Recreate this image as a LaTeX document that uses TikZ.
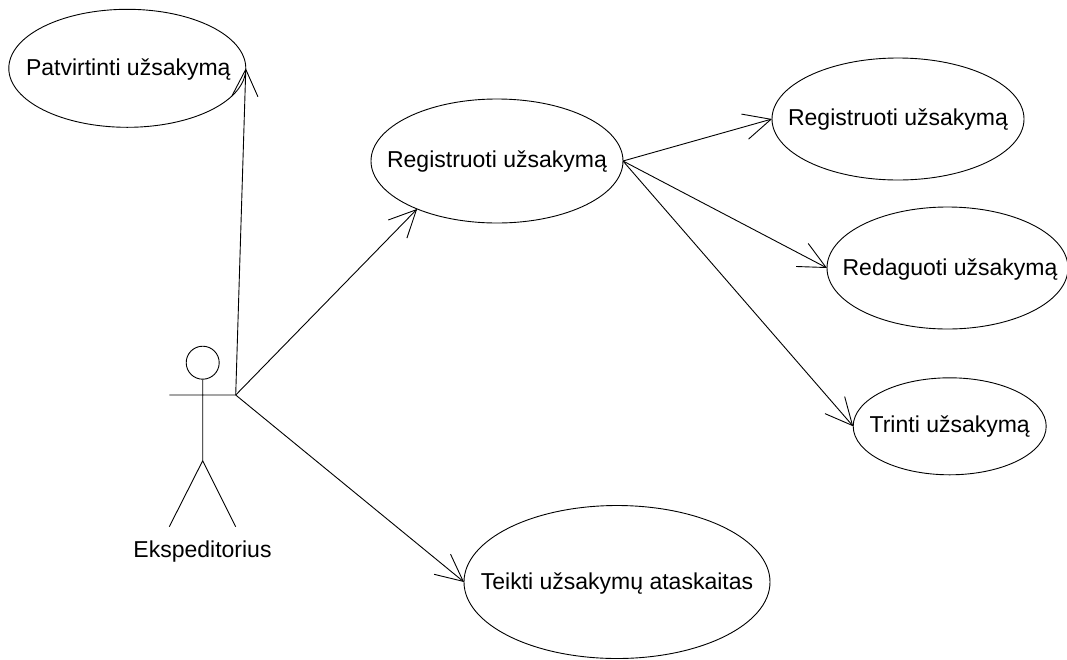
\documentclass[tikz,border=0pt]{standalone}
\usepackage{fontspec}
\setmainfont{Liberation Sans}
\usetikzlibrary{arrows.meta,shapes.geometric}
\newcommand{\uctext}[1]{\makebox[0pt][c]{#1}}
\tikzset{
  uc/.style={draw,ellipse,line width=0.9pt,inner sep=0pt,outer sep=0pt,text height=15pt,text depth=0pt,font=\fontsize{23pt}{26pt}\selectfont},
  ucb/.style={uc,text height=12.5pt},
  lnk/.style={line width=0.9pt,-{Straight Barb[length=27pt,width=26pt,line width=0.9pt]}},
  stick/.style={line width=0.9pt}
}
\begin{document}
\begin{tikzpicture}[x=1pt,y=-1pt]
\useasboundingbox (0,0) rectangle (1067,659);
\fill[white] (0,0) rectangle (1067,659);
\node[uc,minimum width=237pt,minimum height=118pt] (p) at (127.3,68.3) {\uctext{\hspace{2pt}Patvirtinti užsakymą}};
\node[ucb,minimum width=252pt,minimum height=124pt] (r) at (497,161) {\uctext{Registruoti užsakymą}};
\node[ucb,minimum width=252pt,minimum height=122pt] (r2) at (898,119) {\uctext{Registruoti užsakymą}};
\node[uc,minimum width=241pt,minimum height=122pt] (e) at (947.5,268) {\uctext{\hspace{5pt}Redaguoti užsakymą}};
\node[ucb,minimum width=193pt,minimum height=97pt] (t) at (949.7,426.3) {\uctext{Trinti užsakymą}};
\node[uc,minimum width=306pt,minimum height=153pt] (k) at (617,582) {\uctext{Teikti užsakymų ataskaitas}};
\node[draw,circle,line width=0.9pt,minimum size=33pt,inner sep=0pt] (h) at (202.7,362.7) {};
\coordinate (n) at (202.7,460.7);
\coordinate (a) at (235.7,395);
\coordinate (a0) at (169.3,395);
\coordinate (fl) at (169.3,526.7);
\coordinate (fr) at (235.7,526.7);
\node[font=\fontsize{23pt}{26pt}\selectfont,inner sep=0pt,anchor=base] (lab) at (202.5,557.3) {Ekspeditorius};
\draw[stick] (h.south) -- (n) -- (fl) (n) -- (fr) (a0) -- (a);
\draw[lnk] (a) -- (p.east);
\draw[lnk] (a) -- (r.211);
\draw[lnk] (a) -- (k.west);
\draw[lnk] (r.east) -- (r2.west);
\draw[lnk] (r.east) -- (e.west);
\draw[lnk] (r.east) -- (t.west);
\end{tikzpicture}
\end{document}
